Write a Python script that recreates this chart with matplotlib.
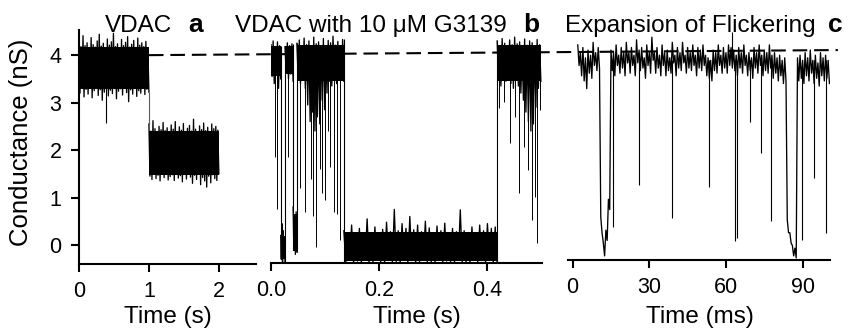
import numpy as np
import matplotlib
matplotlib.use('Agg')
import matplotlib.pyplot as plt
from matplotlib.lines import Line2D
from matplotlib.ticker import FormatStrFormatter

plt.rcParams['font.family'] = ['Liberation Sans', 'DejaVu Sans']

OUTPUT_PLOT = 'out.png'

# open-channel conductance (nS), the dashed reference level
OPEN_G = 4.0

# --- panel a: VDAC alone, 2 s record (upper / lower excursions of the noise) ---
A_OPEN_T = (0.0, 1.0)
A_OPEN_HI = [4.32, 4.18, 4.41, 4.20, 4.26, 4.15, 4.37, 4.22, 4.17, 4.30, 4.44, 4.19,
             4.25, 4.16, 4.34, 4.21, 4.28, 4.46, 4.18, 4.24, 4.15, 4.33, 4.20, 4.27,
             4.39, 4.17, 4.23, 4.31, 4.16, 4.36, 4.21, 4.26, 4.18, 4.29, 4.14]
A_OPEN_LO = [3.20, 3.32, 3.12, 3.28, 3.18, 3.35, 3.10, 3.25, 3.30, 3.15, 3.27, 3.05,
             3.22, 3.33, 3.14, 3.26, 3.19, 3.31, 3.08, 3.24, 3.29, 3.16, 3.34, 3.21,
             3.02, 3.27, 3.18, 3.30, 3.13, 3.25, 3.20, 3.33, 3.17, 3.28, 3.22]
A_SUB_T = (1.0, 2.0)
A_SUB_HI = [2.55, 2.40, 2.62, 2.45, 2.38, 2.50, 2.43, 2.58, 2.41, 2.47, 2.36, 2.53,
            2.44, 2.60, 2.39, 2.49, 2.42, 2.56, 2.37, 2.46, 2.52, 2.40, 2.65, 2.44,
            2.38, 2.51, 2.43, 2.57, 2.41, 2.48, 2.39, 2.55, 2.45, 2.50, 2.42]
A_SUB_LO = [1.45, 1.38, 1.52, 1.40, 1.47, 1.35, 1.50, 1.42, 1.55, 1.37, 1.44, 1.48,
            1.36, 1.51, 1.41, 1.46, 1.33, 1.49, 1.39, 1.53, 1.43, 1.30, 1.47, 1.38,
            1.50, 1.27, 1.42, 1.35, 1.22, 1.45, 1.31, 1.48, 1.40, 1.36, 1.50]
A_SPIKE_T = [0.38]
A_SPIKE_G = [2.57]

# --- panel b: VDAC with 10 uM G3139, 0.5 s record ---
B_EDGES = [0.0, 0.018, 0.026, 0.041, 0.048, 0.135, 0.419, 0.500]
B_HI = [
    [4.22, 4.30, 4.15, 4.28, 4.20],
    [0.20, 0.45, 0.30, 0.15],
    [4.18, 4.26, 4.20, 4.24],
    [0.80, 0.60, 0.70],
    [4.25, 4.32, 4.18, 4.36, 4.22, 4.30, 4.15, 4.38, 4.24, 4.28, 4.20, 4.35,
     4.17, 4.31, 4.26, 4.40, 4.21, 4.29, 4.19, 4.33],
    [0.30, 0.18, 0.42, 0.22, 0.35, 0.15, 0.55, 0.25, 0.38, 0.20, 0.33, 0.48,
     0.28, 0.75, 0.30, 0.45, 0.35, 0.60, 0.32, 0.42, 0.28, 0.50, 0.36, 0.25,
     0.40, 0.30, 0.46, 0.22, 0.35, 0.28, 0.74, 0.30, 0.20, 0.38, 0.25, 0.42,
     0.30, 0.45, 0.35, 0.38],
    [4.30, 4.20, 4.35, 4.25, 4.18, 4.32, 4.22, 4.38, 4.24, 4.28, 4.19, 4.34,
     4.21, 4.30, 4.26, 4.17, 4.33, 4.22],
]
B_LO = [
    [3.55, 3.40, 3.60, 3.30, 3.50],
    [-0.30, -0.38, -0.25, -0.35],
    [3.65, 3.50, 3.60, 3.45],
    [-0.10, -0.20, -0.15],
    [3.55, 3.40, 3.60, 3.30, 2.95, 2.60, 2.80, 2.40, 2.70, 2.55, 3.05, 2.85,
     3.20, 3.45, 3.35, 3.55, 3.40, 3.60, 3.50, 3.45],
    [-0.38, -0.30, -0.38, -0.34, -0.38, -0.28, -0.38, -0.36, -0.32, -0.38,
     -0.38, -0.30, -0.38, -0.35, -0.38, -0.26, -0.38, -0.33, -0.38, -0.38,
     -0.30, -0.38, -0.36, -0.38, -0.29, -0.38, -0.34, -0.38, -0.38, -0.31,
     -0.38, -0.36, -0.38, -0.27, -0.38, -0.33, -0.38, -0.30, -0.38, -0.38],
    [3.50, 3.35, 3.60, 3.45, 3.55, 3.40, 3.30, 3.50, 3.35, 3.20, 3.05, 2.80,
     2.60, 2.40, 2.55, 2.90, 3.30, 3.45],
]
B_SPIKE_T = [0.007, 0.011, 0.032, 0.054, 0.063, 0.074, 0.078, 0.084, 0.090,
             0.094, 0.100, 0.106, 0.110, 0.116, 0.122, 0.127, 0.423, 0.432,
             0.443, 0.452, 0.459, 0.469, 0.477, 0.483, 0.489, 0.493, 0.498]
B_SPIKE_G = [1.85, 0.75, 1.86, 1.20, 0.70, 1.40, 0.60, -0.05, 1.60,
             1.10, 0.95, 2.40, 1.65, 0.70, 0.65, 0.10, 2.88, 3.02,
             2.15, 2.70, 1.09, 2.07, 1.58, 0.53, 1.02, 0.04, 2.84]

# --- panel c: expansion of the flickering, 1 ms bins from 2 ms (high / low of each bin) ---
C_T0 = 2.0
C_DT = 1.0
C_HI = [4.10, 3.95, 4.05, 3.85, 4.00, 3.90, 4.15, 3.95, 4.05, 0.75,
        0.25, 0.50, 1.10, 4.00, 3.95, 4.10, 3.90, 4.05, 3.95, 4.15,
        3.95, 4.05, 3.90, 4.20, 4.00, 4.05, 3.85, 4.10, 3.95, 4.25,
        3.95, 4.05, 3.90, 4.10, 3.95, 4.00, 3.85, 4.15, 3.90, 4.05,
        3.95, 4.15, 3.90, 4.05, 3.95, 4.10, 3.90, 4.05, 4.00, 4.10,
        3.90, 3.85, 3.80, 4.00, 3.95, 4.10, 3.90, 4.05, 3.95, 4.10,
        4.05, 4.00, 3.90, 4.05, 3.95, 4.10, 3.90, 3.95, 3.85, 4.05,
        3.95, 4.10, 3.90, 4.00, 3.95, 4.10, 3.90, 3.95, 3.85, 3.90,
        3.80, 3.85, 0.70, 0.45, 0.20, 0.15, 3.85, 3.90, 3.80, 3.95,
        3.85, 4.00, 3.80, 3.90, 3.75, 3.95, 3.85, 3.90, 3.80]
C_LO = [3.70, 3.50, 3.40, 3.25, 3.55, 3.45, 3.70, 3.60, 3.65, 0.45,
        0.00, 0.30, 0.90, 3.60, 3.50, 3.70, 3.55, 3.65, 3.50, 3.75,
        3.55, 3.70, 3.50, 3.75, 3.60, 3.65, 3.45, 3.70, 3.55, 3.80,
        3.55, 3.65, 3.50, 3.70, 3.50, 3.60, 3.55, 3.75, 3.50, 3.65,
        3.60, 3.75, 3.55, 3.65, 3.60, 3.70, 3.50, 3.65, 3.60, 3.70,
        3.50, 3.45, 3.40, 3.60, 3.55, 3.70, 3.55, 3.65, 3.55, 3.70,
        3.65, 3.60, 3.50, 3.65, 3.55, 3.70, 3.50, 3.60, 3.45, 3.65,
        3.55, 3.70, 3.50, 3.60, 3.55, 3.65, 3.45, 3.55, 3.40, 3.50,
        3.35, 3.40, 0.45, 0.25, 0.00, -0.04, 3.40, 3.45, 3.35, 3.50,
        3.40, 3.55, 3.35, 3.45, 3.30, 3.50, 3.40, 3.45, 3.35]
C_OPEN = 3.8
C_SPIKE_T = [15.9, 25.9, 39.0, 53.5, 62.3, 63.4, 64.5, 69.4, 73.8, 77.6, 89.6, 94.5, 99.1]
C_SPIKE_G = [0.57, 1.38, 0.73, 1.33, 4.35, 0.28, 0.35, 2.61, 2.00, 0.67, 0.30, 1.51, 0.45]

FS_TICK = 15.5
FS_LABEL = 17.5


def draw_band(ax, t0, t1, hi, lo):
    # noisy record: solid core plus a zig-zag through the high / low excursions
    n = len(hi)
    t = np.linspace(t0, t1, 2 * n)
    g = np.empty(2 * n)
    g[0::2] = hi
    g[1::2] = lo
    ax.fill_between([t0, t1], np.percentile(lo, 75), np.percentile(hi, 25),
                    color='black', lw=0)
    ax.plot(t, g, color='black', lw=0.95)


def style_axis(ax, show_left):
    for side in ['top', 'right']:
        ax.spines[side].set_visible(False)
    ax.spines['left'].set_visible(show_left)
    for side in ['left', 'bottom']:
        ax.spines[side].set_linewidth(1.5)
    ax.tick_params(direction='out', length=6, width=1.5, labelsize=FS_TICK, pad=6.5)
    if not show_left:
        ax.set_yticks([])


def main():
    fig = plt.figure(figsize=(8.5, 3.34), dpi=100)
    ax_a = fig.add_axes([0.0929, 0.2096, 0.2082, 0.7006])
    ax_b = fig.add_axes([0.3188, 0.2126, 0.3188, 0.6976])
    ax_c = fig.add_axes([0.6682, 0.2216, 0.3082, 0.6886])

    # panel a
    draw_band(ax_a, *A_OPEN_T, A_OPEN_HI, A_OPEN_LO)
    draw_band(ax_a, *A_SUB_T, A_SUB_HI, A_SUB_LO)
    ax_a.vlines(A_SUB_T[0], A_SUB_HI[0], A_OPEN_LO[-1], color='0.35', lw=0.8)
    ax_a.vlines(A_SPIKE_T, A_SPIKE_G, OPEN_G, color='black', lw=0.8)
    ax_a.set_xlim(0, 2.53)
    ax_a.set_ylim(-0.4, 4.53)
    ax_a.set_xticks([0, 1, 2])
    ax_a.set_yticks([0, 1, 2, 3, 4])
    style_axis(ax_a, True)
    ax_a.set_ylabel('Conductance (nS)', fontsize=18.5)
    ax_a.yaxis.set_label_coords(-0.26, 0.52)
    ax_a.set_xlabel('Time (s)', fontsize=FS_LABEL)
    ax_a.xaxis.set_label_coords(0.5, -0.18)

    # panel b
    for i in range(len(B_HI)):
        draw_band(ax_b, B_EDGES[i], B_EDGES[i + 1], B_HI[i], B_LO[i])
    for i in range(1, len(B_HI)):
        lo = min(B_LO[i - 1][-1], B_LO[i][0])
        hi = max(B_HI[i - 1][-1], B_HI[i][0])
        ax_b.vlines(B_EDGES[i], lo, hi, color='black', lw=0.8)
    ax_b.vlines(B_SPIKE_T, B_SPIKE_G, OPEN_G, color='black', lw=0.7)
    ax_b.set_xlim(0, 0.502)
    ax_b.set_ylim(-0.38, 4.53)
    ax_b.set_xticks([0.0, 0.2, 0.4])
    ax_b.xaxis.set_major_formatter(FormatStrFormatter('%.1f'))
    style_axis(ax_b, False)
    ax_b.set_xlabel('Time (s)', fontsize=FS_LABEL)
    ax_b.xaxis.set_label_coords(0.539, -0.185)

    # panel c
    n_c = len(C_HI)
    t_c = np.empty(2 * n_c)
    t_c[0::2] = C_T0 + C_DT * np.arange(n_c)
    t_c[1::2] = t_c[0::2] + C_DT / 2
    g_c = np.empty(2 * n_c)
    g_c[0::2] = C_HI
    g_c[1::2] = C_LO
    ax_c.plot(t_c, g_c, color='black', lw=0.95)
    ax_c.vlines(C_SPIKE_T, C_SPIKE_G, C_OPEN, color='black', lw=0.8)
    ax_c.set_xlim(-1.84, 100.7)
    ax_c.set_ylim(-0.08, 4.39)
    ax_c.set_xticks([0, 30, 60, 90])
    style_axis(ax_c, False)
    ax_c.set_xlabel('Time (ms)', fontsize=FS_LABEL)
    ax_c.xaxis.set_label_coords(0.504, -0.2)

    # dashed open level running from panel a across to panel c
    to_fig = fig.transFigure.inverted()
    p0 = to_fig.transform(ax_a.transData.transform((A_OPEN_T[1], OPEN_G)))
    p1 = to_fig.transform(ax_c.transData.transform((103.8, OPEN_G)))
    fig.add_artist(Line2D([p0[0], p1[0]], [p0[1], p1[1]], transform=fig.transFigure,
                          color='black', lw=1.5, linestyle=(0, (7, 3.3))))

    # panel titles and letters
    fig.text(0.1235, 0.904, 'VDAC', fontsize=17.5, va='baseline')
    fig.text(0.221, 0.904, 'a', fontsize=19, fontweight='bold', va='baseline')
    fig.text(0.2765, 0.904, 'VDAC with 10 \u03bcM G3139', fontsize=17.5, va='baseline')
    fig.text(0.615, 0.904, 'b', fontsize=19, fontweight='bold', va='baseline')
    fig.text(0.6647, 0.904, 'Expansion of Flickering', fontsize=17.5, va='baseline')
    fig.text(0.974, 0.904, 'c', fontsize=19, fontweight='bold', va='baseline')

    fig.savefig(OUTPUT_PLOT, dpi=100)


if __name__ == "__main__":
    main()
